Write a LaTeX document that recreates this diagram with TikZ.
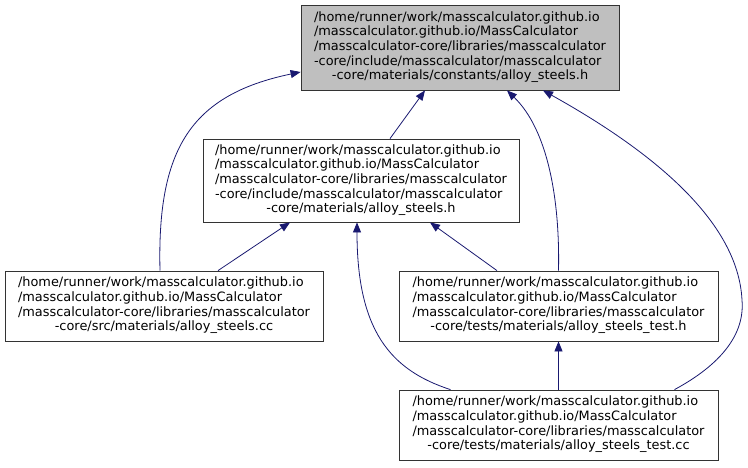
\documentclass[tikz,border=0pt]{standalone}
\usepackage{fontspec}
\setmainfont{DejaVu Sans}
\usetikzlibrary{arrows.meta}
\definecolor{edgeblue}{HTML}{191970}
\definecolor{topgray}{HTML}{BFBFBF}
\newcommand{\flines}[1]{\begin{tabular}{@{}l@{}}#1\end{tabular}}
\newcommand{\lastline}[1]{\multicolumn{1}{@{}c@{}}{#1}}
\tikzset{
  filebox/.style={draw=black!80, line width=0.8pt, fill=white, align=center,
    inner sep=0pt, font=\fontsize{12.9pt}{14.7pt}\selectfont},
  dep/.style={draw=edgeblue, line width=0.8pt, -{Triangle[length=10pt,width=8pt]}},
}
\begin{document}
\begin{tikzpicture}[x=1pt,y=-1pt]
\useasboundingbox (0,0) rectangle (748,467);

\node[filebox, fill=topgray, minimum width=318pt, minimum height=85pt] (A) at (460,47.5)
 {\flines{/home/runner/work/masscalculator.github.io\\/masscalculator.github.io/MassCalculator\\/masscalculator-core/libraries/masscalculator\\-core/include/masscalculator/masscalculator\\\lastline{-core/materials/constants/alloy\_steels.h}}};

\node[filebox, minimum width=316pt, minimum height=83pt] (B) at (361,180.5)
 {\flines{/home/runner/work/masscalculator.github.io\\/masscalculator.github.io/MassCalculator\\/masscalculator-core/libraries/masscalculator\\-core/include/masscalculator/masscalculator\\\lastline{-core/materials/alloy\_steels.h}}};

\node[filebox, minimum width=318pt, minimum height=70pt] (C) at (164,306)
 {\flines{/home/runner/work/masscalculator.github.io\\/masscalculator.github.io/MassCalculator\\/masscalculator-core/libraries/masscalculator\\\lastline{-core/src/materials/alloy\_steels.cc}}};

\node[filebox, minimum width=319pt, minimum height=70pt] (D) at (558.5,306)
 {\flines{/home/runner/work/masscalculator.github.io\\/masscalculator.github.io/MassCalculator\\/masscalculator-core/libraries/masscalculator\\\lastline{-core/tests/materials/alloy\_steels\_test.h}}};

\node[filebox, minimum width=319pt, minimum height=70pt] (E) at (558.5,425)
 {\flines{/home/runner/work/masscalculator.github.io\\/masscalculator.github.io/MassCalculator\\/masscalculator-core/libraries/masscalculator\\\lastline{-core/tests/materials/alloy\_steels\_test.cc}}};

% edges to A
\draw[dep] ([xshift=29pt]B.north) -- ([xshift=-35pt]A.south);
\draw[dep] ([xshift=-4pt]C.north) .. controls (157,150) and (190,95) .. ([yshift=-24.5pt]A.west);
\draw[dep] (D.north) .. controls (560,200) and (548,130) .. ([xshift=47pt]A.south);
\draw[dep] ([xshift=116pt]E.north) .. controls (720,365) and (745,335) .. (742,300)
  .. controls (738,220) and (650,150) .. ([xshift=83pt]A.south);
% edges to B
\draw[dep] ([xshift=54pt]C.north) -- ([xshift=-71pt]B.south);
\draw[dep] ([xshift=-61.5pt]D.north) -- ([xshift=69pt]B.south);
\draw[dep] ([xshift=-108pt]E.north) .. controls (390,370) and (357,330) .. ([xshift=-4pt]B.south);
% edge to D
\draw[dep] (E.north) -- (D.south);
\end{tikzpicture}
\end{document}
